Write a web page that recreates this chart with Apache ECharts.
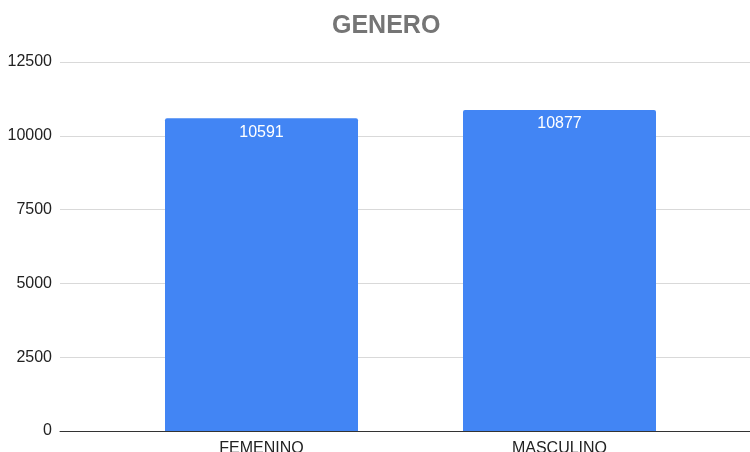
<!DOCTYPE html>
<html><head><meta charset="utf-8">
<script src="https://cdn.jsdelivr.net/npm/echarts@6/dist/echarts.min.js"></script>
<style>html,body{margin:0;padding:0;background:#fff}#c{width:750px;height:452px}</style>
</head><body><div id="c"></div>
<script>
const titleText = 'GENERO';
const categories = ['FEMENINO', 'MASCULINO'];
const values = [10591, 10877];
const yMin = 0, yMax = 12500, yInterval = 2500;

const chart = echarts.init(document.getElementById('c'));
const font = 'Liberation Sans, Arial, sans-serif';
chart.setOption({
  animation: false,
  title: {text: titleText, left: 327, top: 9,
    textStyle: {fontFamily: font, fontSize: 25, fontWeight: 'bold', color: '#757575'}},
  grid: [
    {left: 60, right: 0, top: 62, bottom: 21, outerBoundsMode: 'none', containLabel: false},
    {left: 112.5, right: 41.5, top: 62, bottom: 21, outerBoundsMode: 'none', containLabel: false}
  ],
  xAxis: [
    {type: 'category', gridIndex: 0, data: categories, axisLabel: {show: false}, axisTick: {show: false},
      axisLine: {show: true, lineStyle: {color: '#333', width: 1}}, z: 5},
    {type: 'category', gridIndex: 1, data: categories, axisTick: {show: false},
      axisLine: {show: false},
      axisLabel: {fontFamily: font, fontSize: 16, color: '#222', margin: 10}}
  ],
  yAxis: [
    {type: 'value', gridIndex: 0, min: yMin, max: yMax, interval: yInterval,
      axisLabel: {fontFamily: font, fontSize: 16, color: '#222', margin: 8, formatter: v => String(v)},
      splitLine: {lineStyle: {color: '#d9d9d9', width: 1}}, axisLine: {show: false}, axisTick: {show: false}},
    {type: 'value', gridIndex: 1, min: yMin, max: yMax, interval: yInterval, show: false}
  ],
  series: [{
    type: 'bar', xAxisIndex: 1, yAxisIndex: 1, data: values, barWidth: 193,
    itemStyle: {color: '#4285F4', borderRadius: [2, 2, 0, 0]},
    label: {show: true, position: 'insideTop', distance: 6, color: '#fff', fontFamily: font, fontSize: 16}
  }]
});
</script></body></html>
